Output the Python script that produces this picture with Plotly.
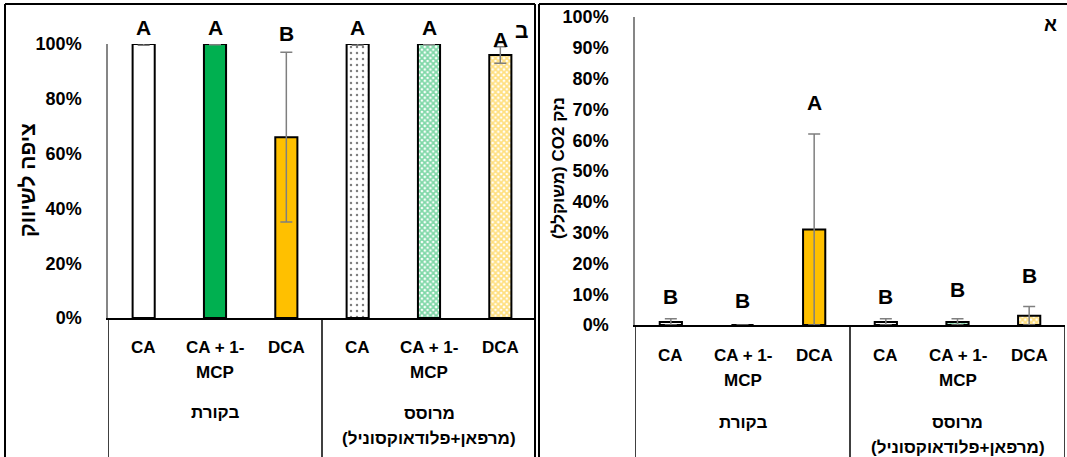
import plotly.graph_objects as go

# ---- data -------------------------------------------------------------
treatments = ["CA", "CA + 1-<br>MCP", "DCA"]
groups = ["בקורת", "מרוסס<br>(מרפאן+פלודאוקסוניל)"]

# panel ב : marketable fruit (%)
marketable = [100, 100, 66, 100, 100, 96]
marketable_err = [0.5, 0.3, 31, 0.5, 0.3, 3]
marketable_letters = ["A", "A", "B", "A", "A", "A"]

# panel א : weighted CO2 damage (%)
co2_damage = [1, 0, 31, 1, 1, 3]
co2_damage_err = [1, 0, 31, 1, 1, 3]
co2_letters = ["B", "B", "A", "B", "B", "B"]

# ---- styling / layout constants ---------------------------------------
W, H = 1067, 457
GREEN = "#00B050"
ORANGE = "#FFC000"
ERR = "#7F7F7F"
FONT = "Liberation Sans, DejaVu Sans, sans-serif"

# letter positions as fractions of each y axis
letter_pos_left = [1.062, 1.062, 1.04, 1.062, 1.062, 1.015]
letter_pos_right = [0.091, 0.081, 0.721, 0.091, 0.114, 0.162]

fill_colors = ["white", GREEN, ORANGE, "white", "white", "white"]
pat_shapes = ["", "", "", ".", "x", "x"]
pat_fg = ["black", "black", "black", "black", GREEN, ORANGE]
pat_size = [6, 6, 6, 6, 4, 4]
pat_solid = [0.2, 0.2, 0.2, 0.13, 0.7, 0.7]


def px(x):
    return x / W


def py(y):
    return 1 - y / H


n = len(treatments) * len(groups)
xs = list(range(n))
cat_labels = treatments * len(groups)

left_dom_x = [px(108), px(536)]
left_dom_y = [py(318), py(44)]
right_dom_x = [px(635), px(1065)]
right_dom_y = [py(325), py(17)]

fig = go.Figure()


def add_bars(values, errs, xa, ya):
    for i in xs:
        fig.add_trace(go.Bar(
            x=[xs[i]], y=[values[i] / 100],
            xaxis=xa, yaxis=ya,
            width=0.31,
            cliponaxis=False,
            marker=dict(
                color=fill_colors[i],
                line=dict(color="black", width=2),
                pattern=dict(shape=pat_shapes[i], fgcolor=pat_fg[i], bgcolor=fill_colors[i],
                             size=pat_size[i], solidity=pat_solid[i], fillmode="overlay"),
            ),
            error_y=dict(type="data", array=[errs[i] / 100], color=ERR,
                         thickness=1.5, width=6),
            showlegend=False,
            hoverinfo="skip",
        ))


add_bars(marketable, marketable_err, "x", "y")
add_bars(co2_damage, co2_damage_err, "x2", "y2")

xcommon = dict(range=[-0.5, n - 0.5], showticklabels=False,
               showline=True, linecolor="black", linewidth=1.5, ticks="",
               showgrid=False, zeroline=False, fixedrange=True)
ycommon = dict(range=[0, 1], tickformat=".0%", showline=True, linecolor="#868686",
               linewidth=1.5, ticks="", showgrid=False, zeroline=False,
               tickfont=dict(family=FONT, size=18, color="black", weight="bold"),
               ticklabelstandoff=21)

fig.update_layout(
    width=W, height=H, autosize=False,
    margin=dict(l=0, r=0, t=0, b=0, autoexpand=False),
    paper_bgcolor="white", plot_bgcolor="rgba(0,0,0,0)",
    barmode="overlay",
    xaxis=dict(domain=left_dom_x, anchor="y", **xcommon),
    yaxis=dict(domain=left_dom_y, anchor="x", dtick=0.2, **ycommon),
    xaxis2=dict(domain=right_dom_x, anchor="y2", **xcommon),
    yaxis2=dict(domain=right_dom_y, anchor="x2", dtick=0.1, **ycommon),
)

annotations = []
shapes = []

letter_font = dict(family=FONT, size=21, color="black", weight="bold")
label_font = dict(family=FONT, size=17, color="black", weight="bold")
LINE = 25  # pixel spacing between label lines


def note(**kw):
    kw.setdefault("xanchor", "center")
    kw.setdefault("yanchor", "middle")
    kw.setdefault("showarrow", False)
    annotations.append(kw)


def on_axis(frac, dom):
    return dom[0] + frac * (dom[1] - dom[0])


for i in xs:
    note(x=i, y=on_axis(letter_pos_left[i], left_dom_y), xref="x", yref="paper",
         text=marketable_letters[i], font=letter_font)
    note(x=i, y=on_axis(letter_pos_right[i], right_dom_y), xref="x2", yref="paper",
         text=co2_letters[i], font=letter_font)


def add_lines(text, x, xa, first_y):
    for k, line in enumerate(text.split("<br>")):
        note(x=x, y=py(first_y + k * LINE), xref=xa, yref="paper", text=line, font=label_font)


# category labels and group labels under the axes
for xa, cat_y, grp_y in (("x", 347, [412, 413]), ("x2", 355, [422, 422])):
    for i in xs:
        add_lines(cat_labels[i], i, xa, cat_y)
    for g, name in enumerate(groups):
        centre = g * len(treatments) + (len(treatments) - 1) / 2
        add_lines(name, centre, xa, grp_y[g])

# axis titles
note(x=px(27), y=py(180), xref="paper", yref="paper", text="ציפה לשיווק", textangle=-90,
     font=dict(family=FONT, size=21, color="black", weight="bold"))
note(x=px(558), y=py(168), xref="paper", yref="paper", text="\u202bנזק CO2 (משוקלל)\u202c",
     textangle=-90, font=dict(family=FONT, size=17, color="black", weight="bold"))

# panel letters
note(x=px(521), y=py(31), xref="paper", yref="paper", text="ב",
     font=dict(family=FONT, size=21, color="black", weight="bold"))
note(x=px(1050), y=py(25), xref="paper", yref="paper", text="א",
     font=dict(family=FONT, size=19, color="black", weight="bold"))

# group dividers running from the category axis down to the bottom
for xa, dom in (("x", left_dom_y), ("x2", right_dom_y)):
    for b in range(len(groups) + 1):
        xb = b * len(treatments) - 0.5
        shapes.append(dict(type="line", xref=xa, yref="paper", x0=xb, x1=xb,
                           y0=0, y1=dom[0], line=dict(color="black", width=1.5)))

# panel frames
frame = dict(color="black", width=2)
shapes += [
    dict(type="line", xref="paper", yref="paper", x0=px(5), x1=px(535), y0=py(4), y1=py(4), line=frame),
    dict(type="line", xref="paper", yref="paper", x0=px(5), x1=px(5), y0=0, y1=py(4), line=frame),
    dict(type="line", xref="paper", yref="paper", x0=px(535), x1=px(535), y0=0, y1=py(4), line=frame),
    dict(type="line", xref="paper", yref="paper", x0=px(539), x1=px(1067), y0=py(4), y1=py(4), line=frame),
    dict(type="line", xref="paper", yref="paper", x0=px(539), x1=px(539), y0=0, y1=py(4), line=frame),
]

fig.update_layout(annotations=annotations, shapes=shapes)
fig.write_html("out.html")
